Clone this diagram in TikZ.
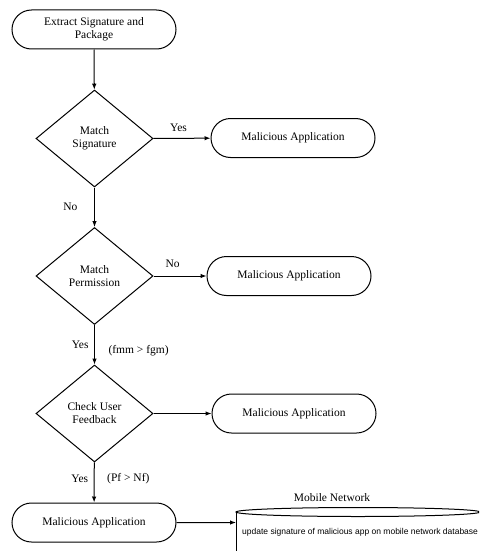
\documentclass[tikz,border=0pt]{standalone}
\usepackage{fontspec}
\setmainfont{Liberation Serif}
\newfontfamily\arialfont{Liberation Sans}
\usetikzlibrary{shapes.misc,shapes.geometric,arrows.meta}
\tikzset{
  term/.style={draw, rounded rectangle, minimum width=164pt, minimum height=39pt, inner sep=0pt, align=center, font=\fontsize{11.5}{13}\selectfont, line width=1pt},
  decision/.style={draw, diamond, minimum width=117pt, minimum height=97pt, inner sep=0pt, align=center, font=\fontsize{11.5}{13}\selectfont, line width=1pt},
  flow/.style={line width=1pt, -{Latex[length=6pt,width=4.5pt]}},
  lbl/.style={font=\fontsize{11.5}{13}\selectfont, inner sep=0pt}
}
\begin{document}
\begin{tikzpicture}[x=1pt,y=-1pt]
\useasboundingbox (0,0) rectangle (479,551);
\node[term] (start) at (94,29.5) {Extract Signature and\\Package};
\node[decision] (d1) at (94.5,138.5) {Match\\Signature};
\node[term] (t2) at (293,138) {Malicious Application};
\node[decision] (d2) at (94.5,276) {Match\\Permission};
\node[term] (t3) at (289,276) {Malicious Application};
\node[decision] (d3) at (94.5,413.5) {Check User\\Feedback};
\node[term] (t4) at (294,413.5) {Malicious Application};
\node[term] (t5) at (94,522.5) {Malicious Application};

% database (cylinder, cut by the picture's edge)
\begin{scope}
\clip (0,0) rectangle (479,551);
\draw[line width=1pt] (236,512) -- (236,560);
\draw[line width=1pt] (358,512) ellipse [x radius=122, y radius=4.5];
\end{scope}
\coordinate (db) at (236,522.5);
\node[lbl] (mn) at (332,498) {Mobile Network};
\node[font=\arialfont\fontsize{8.5}{10}\selectfont, inner sep=0pt, anchor=west] (upd) at (242,532) {update signature of malicious app on mobile network database};

\draw[flow] (start) -- (d1);
\draw[flow] (d1) -- node[lbl, pos=0.44, above=6pt] (y1) {Yes} (t2);
\draw[flow] (d1) -- node[lbl, pos=0.5, left=16.5pt] (n1) {No} (d2);
\draw[flow] (d2) -- node[lbl, pos=0.36, above=8pt] (n2) {No} (t3);
\draw[flow] (d2) -- node[lbl, pos=0.51, left=5.5pt] (y2) {Yes} node[lbl, pos=0.64, right=13.5pt] (c2) {(fmm > fgm)} (d3);
\draw[flow] (d3) -- (t4);
\draw[flow] (d3) -- node[lbl, pos=0.4, left=5.5pt] (y3) {Yes} node[lbl, pos=0.4, right=12.5pt] (c3) {(Pf > Nf)} (t5);
\draw[flow] (t5) -- (db);
\end{tikzpicture}
\end{document}
